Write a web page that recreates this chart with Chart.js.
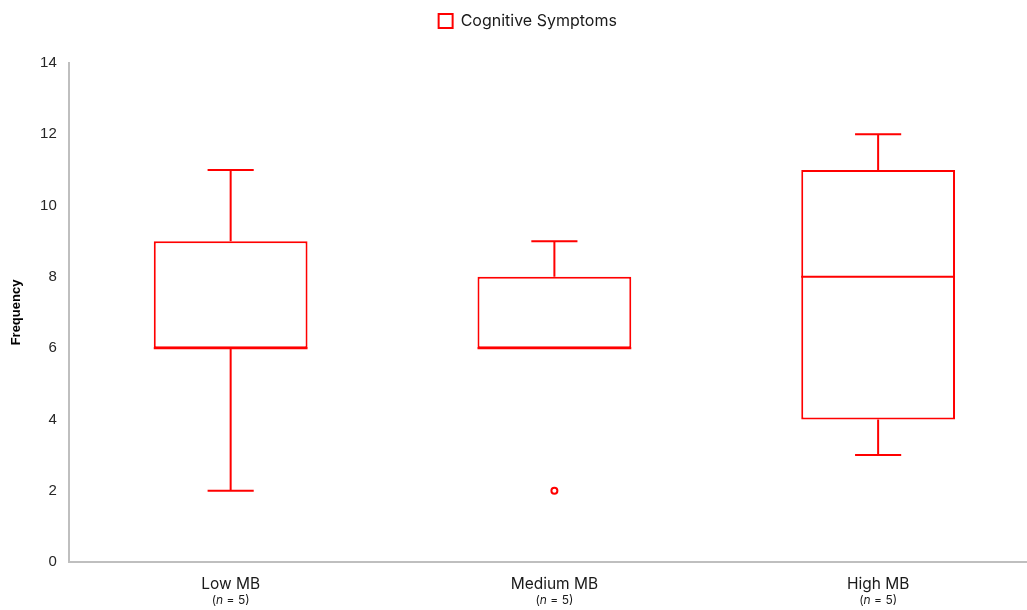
<!DOCTYPE html>
<html>
<head>
<meta charset="utf-8">
<script src="https://cdn.jsdelivr.net/npm/chart.js@4/dist/chart.umd.min.js"></script>
<style>
  html, body { margin: 0; padding: 0; background: #fff; overflow: hidden; }
  #wrap { position: relative; width: 1046px; height: 610px; }
</style>
</head>
<body>
<div id="wrap"><canvas id="chart"></canvas></div>
<script>
// Box-plot summary per group
const categories = ['Low MB', 'Medium MB', 'High MB'];
const sampleSizes = [5, 5, 5];
const whiskerLow = [2, 6, 3];
const q1 = [6, 6, 4];
const median = [6, 6, 8];
const q3 = [9, 8, 11];
const whiskerHigh = [11, 9, 12];
const outliers = [[], [2], []];
const seriesName = 'Cognitive Symptoms';
const yTicks = [0, 2, 4, 6, 8, 10, 12, 14];

const RED = '#ff0000';
const AXIS = '#bfbfbf';

const outlierPoints = [];
outliers.forEach((list, i) => list.forEach(v => outlierPoints.push({ x: categories[i], y: v })));

// Whiskers, caps and median lines, positioned through the chart scales
const boxDecor = {
  id: 'boxDecor',
  afterDatasetsDraw(chart) {
    const ctx = chart.ctx;
    const xs = chart.scales.x, ys = chart.scales.y;
    const meta = chart.getDatasetMeta(0);
    ctx.save();
    ctx.strokeStyle = RED;
    ctx.lineWidth = 2;
    categories.forEach((c, i) => {
      const bar = meta.data[i];
      const cx = xs.getPixelForValue(i);
      const half = bar.width / 2;
      const cap = bar.width * 0.15;
      const yQ1 = ys.getPixelForValue(q1[i]);
      const yQ3 = ys.getPixelForValue(q3[i]);
      const yLo = ys.getPixelForValue(whiskerLow[i]);
      const yHi = ys.getPixelForValue(whiskerHigh[i]);
      const yMed = ys.getPixelForValue(median[i]);
      ctx.beginPath();
      if (whiskerHigh[i] > q3[i]) {
        ctx.moveTo(cx, yQ3); ctx.lineTo(cx, yHi);
        ctx.moveTo(cx - cap, yHi); ctx.lineTo(cx + cap, yHi);
      }
      if (whiskerLow[i] < q1[i]) {
        ctx.moveTo(cx, yQ1); ctx.lineTo(cx, yLo);
        ctx.moveTo(cx - cap, yLo); ctx.lineTo(cx + cap, yLo);
      }
      ctx.moveTo(cx - half, yMed); ctx.lineTo(cx + half, yMed);
      ctx.stroke();
    });
    ctx.restore();
  }
};

// Category labels with the italic sample-size line underneath
const categoryLabels = {
  id: 'categoryLabels',
  afterDraw(chart) {
    const ctx = chart.ctx;
    const xs = chart.scales.x;
    const base = chart.chartArea.bottom;
    ctx.save();
    ctx.fillStyle = '#1a1a1a';
    ctx.textBaseline = 'middle';
    categories.forEach((c, i) => {
      const cx = xs.getPixelForValue(i);
      ctx.font = '15.5px Inter, "Open Sans", sans-serif';
      ctx.textAlign = 'center';
      ctx.fillText(c, cx, base + 22);
      const parts = [
        { t: '(', f: '12px Inter, "Open Sans", sans-serif' },
        { t: 'n', f: 'italic 12px Inter, "Open Sans", sans-serif' },
        { t: ' = ' + sampleSizes[i] + ')', f: '12px Inter, "Open Sans", sans-serif' }
      ];
      let total = 0;
      parts.forEach(p => { ctx.font = p.f; p.w = ctx.measureText(p.t).width; total += p.w; });
      let x = cx - total / 2;
      ctx.textAlign = 'left';
      parts.forEach(p => { ctx.font = p.f; ctx.fillText(p.t, x, base + 38); x += p.w; });
    });
    ctx.restore();
  }
};

// Legend spacing: extra gap below it and a small horizontal offset
const legendTweak = {
  id: 'legendTweak',
  beforeInit(chart) {
    const legend = chart.legend;
    const fit = legend.fit;
    legend.fit = function () {
      fit.call(this);
      this.height += 24;
    };
    const draw = legend.draw;
    legend.draw = function () {
      const c = this.ctx;
      c.save();
      c.translate(4, 0);
      draw.call(this);
      c.restore();
    };
  }
};

new Chart(document.getElementById('chart'), {
  type: 'bar',
  data: {
    labels: categories,
    datasets: [
      {
        label: seriesName,
        data: q1.map((v, i) => [v, q3[i]]),
        backgroundColor: '#ffffff',
        borderColor: RED,
        borderWidth: 2,
        borderSkipped: false,
        barPercentage: 1,
        categoryPercentage: 0.475
      },
      {
        type: 'line',
        label: 'outliers',
        data: outlierPoints,
        showLine: false,
        pointRadius: 3,
        pointBorderWidth: 2,
        pointBorderColor: RED,
        pointBackgroundColor: '#ffffff'
      }
    ]
  },
  options: {
    responsive: true,
    maintainAspectRatio: false,
    animation: false,
    layout: { padding: { left: 3.5, right: 2, top: 5, bottom: 48 } },
    plugins: {
      legend: {
        position: 'top',
        labels: {
          filter: item => item.datasetIndex === 0,
          boxWidth: 14,
          boxHeight: 14,
          color: '#1a1a1a',
          font: { family: 'Inter, "Open Sans", sans-serif', size: 16 },
          padding: 8
        }
      },
      tooltip: { enabled: false }
    },
    scales: {
      x: {
        grid: { display: false, drawTicks: false },
        border: { color: AXIS, width: 2 },
        ticks: { display: false }
      },
      y: {
        min: 0,
        max: 14,
        afterBuildTicks: axis => { axis.ticks = yTicks.map(v => ({ value: v })); },
        grid: { display: false, drawTicks: false },
        border: { color: AXIS, width: 2 },
        ticks: {
          padding: 12,
          color: '#262626',
          font: { family: '"Liberation Sans", Arial, sans-serif', size: 15 }
        },
        title: {
          display: true,
          text: 'Frequency',
          color: '#000',
          font: { family: '"Liberation Sans", Arial, sans-serif', size: 13, weight: 'bold' },
          padding: { top: 5, bottom: 4 }
        }
      }
    }
  },
  plugins: [boxDecor, categoryLabels, legendTweak]
});
</script>
</body>
</html>
